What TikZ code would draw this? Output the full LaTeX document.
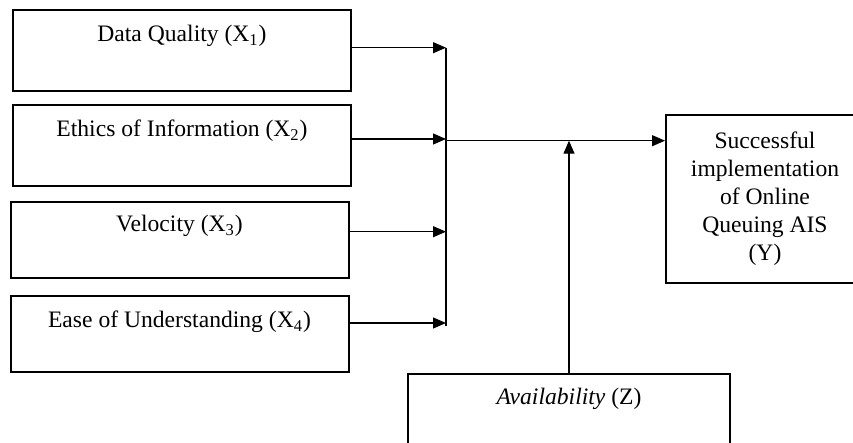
\documentclass[tikz,border=0pt]{standalone}
\usepackage{fontspec}
\setmainfont{Liberation Serif}
\usetikzlibrary{arrows.meta}
\begin{document}
\begin{tikzpicture}[x=0.5pt,y=-0.5pt,
  box/.style={draw, line width=1pt, inner sep=0pt, minimum width=169pt, minimum height=40.5pt,
    text height=16pt, text depth=24.5pt, font=\fontsize{11.8}{14}\selectfont},
  conn/.style={line width=0.6pt, -{Triangle[length=6.5pt,width=5.5pt]}},
  bus/.style={line width=0.6pt}]
\clip (0,0) rectangle (853,443);
\fill[white] (0,0) rectangle (853,443);
% input boxes
\node[box] (X1) at (182,50.5) {Data Quality (X\textsubscript{1})};
\node[box] (X2) at (182,145.5) {Ethics of Information (X\textsubscript{2})};
\node[box, minimum height=38pt, text height=15pt, text depth=23pt] (X3) at (179.5,240) {Velocity (X\textsubscript{3})};
\node[box, minimum height=38pt, text height=16pt, text depth=22pt] (X4) at (179.5,334) {Ease of Understanding (X\textsubscript{4})};
% outcome box
\node[draw, line width=1pt, minimum width=99pt, minimum height=84pt, align=center, inner sep=0pt,
  font=\fontsize{11.8}{14}\selectfont] (Y) at (765,199)
  {Successful\\implementation\\of Online\\Queuing AIS\\(Y)};
% moderator box
\node[box, minimum width=161pt, minimum height=40pt, text height=15.5pt, text depth=24.5pt] (Z) at (569,414)
  {\textit{Availability} (Z)};
% bus coordinates
\coordinate (b1) at (446,47.7);
\coordinate (b2) at (446,139);
\coordinate (b3) at (446,231.7);
\coordinate (b4) at (446,323);
\coordinate (bend) at (446,326);
\coordinate (j) at (446,140.7);
% connectors
\draw[conn] (X1.east |- b1) -- (b1);
\draw[conn] (X2.east |- b2) -- (b2);
\draw[conn] (X3.east |- b3) -- (b3);
\draw[conn] (X4.east |- b4) -- (b4);
\draw[bus] (b1) -- (bend);
\draw[conn] (j) -- (Y.west |- j);
\draw[conn] (Z.north) -- (Z.north |- j);
\end{tikzpicture}
\end{document}
